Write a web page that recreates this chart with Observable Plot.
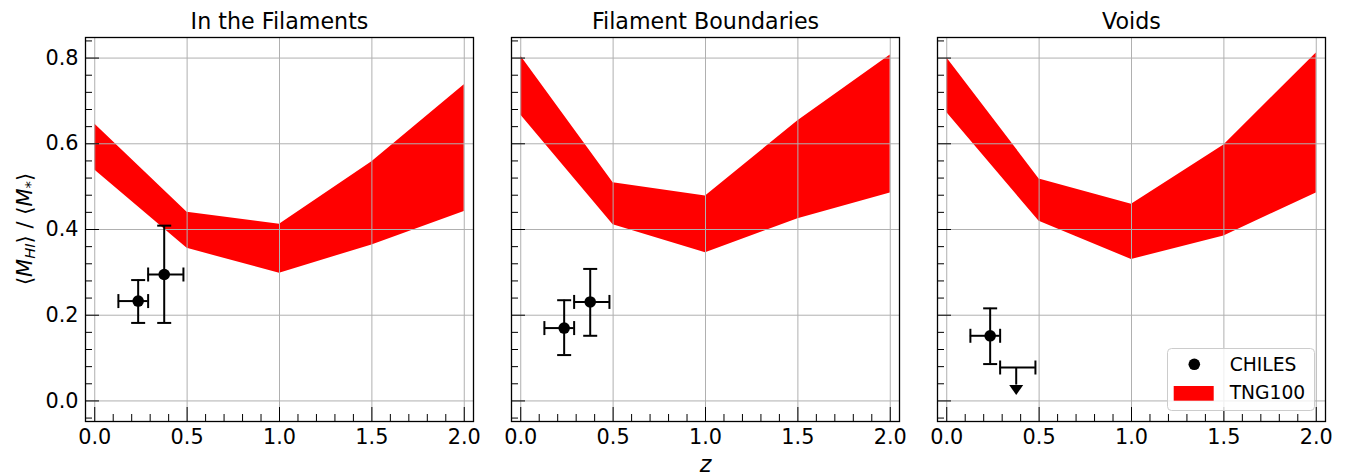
<!DOCTYPE html>
<html>
<head>
<meta charset="utf-8">
<script src="https://cdn.jsdelivr.net/npm/d3@7"></script>
<script src="https://cdn.jsdelivr.net/npm/@observablehq/plot@0.6"></script>
<style>
  html, body { margin: 0; padding: 0; background: #fff; }
  #wrap { position: relative; width: 1347px; height: 476px; background: #fff; font-family: "DejaVu Sans", sans-serif; color: #000; overflow: hidden; }
  #ylabel { position: absolute; left: 25px; top: 229px; transform: translate(-50%, -50%) rotate(-90deg); white-space: nowrap; font-size: 21px; line-height: 1; }
  #ylabel sub { font-size: 70%; vertical-align: -0.25em; line-height: 0; }
</style>
</head>
<body>
<div id="wrap"></div>
<script>
// ---- tick values ----
const xMajor = [0, 0.5, 1.0, 1.5, 2.0];
const xMinor = [0.1, 0.2, 0.3, 0.4, 0.6, 0.7, 0.8, 0.9, 1.1, 1.2, 1.3, 1.4, 1.6, 1.7, 1.8, 1.9];
const yMajor = [0.0, 0.2, 0.4, 0.6, 0.8];
const yMinor = [-0.04, 0.04, 0.08, 0.12, 0.16, 0.24, 0.28, 0.32, 0.36, 0.44, 0.48, 0.52, 0.56, 0.64, 0.68, 0.72, 0.76, 0.84];

// ---- panel titles ----
const panelTitles = ["In the Filaments", "Filament Boundaries", "Voids"];

// ---- TNG100 band (redshift grid, lower / upper edges) ----
const zGrid = [0.0, 0.5, 1.0, 1.5, 2.0];
const filLo = [0.539, 0.356, 0.298, 0.364, 0.442];
const filHi = [0.646, 0.440, 0.412, 0.558, 0.738];
const bndLo = [0.667, 0.411, 0.346, 0.425, 0.485];
const bndHi = [0.805, 0.509, 0.478, 0.654, 0.807];
const voidLo = [0.673, 0.419, 0.330, 0.385, 0.485];
const voidHi = [0.801, 0.518, 0.459, 0.597, 0.812];

// ---- CHILES measurements ----
const chilesZ = [0.235, 0.376];
const chilesZLo = [0.128, 0.289];
const chilesZHi = [0.289, 0.480];
const filV = [0.233, 0.295];
const filVLo = [0.182, 0.182];
const filVHi = [0.282, 0.409];
const bndV = [0.170, 0.231];
const bndVLo = [0.107, 0.152];
const bndVHi = [0.235, 0.308];
const voidV = [0.152];
const voidVLo = [0.086];
const voidVHi = [0.216];
// upper limit in voids (second z bin)
const voidLimV = [0.078];
const voidLimEnd = [0.037];

const bandLo = [filLo, bndLo, voidLo];
const bandHi = [filHi, bndHi, voidHi];
const ptsV = [filV, bndV, voidV];
const ptsVLo = [filVLo, bndVLo, voidVLo];
const ptsVHi = [filVHi, bndVHi, voidVHi];

// ---- custom symbols ----
const hCap = { draw(ctx, size) { const r = Math.sqrt(size / Math.PI); ctx.moveTo(-r, 0); ctx.lineTo(r, 0); } };
const vCap = { draw(ctx, size) { const r = Math.sqrt(size / Math.PI); ctx.moveTo(0, -r); ctx.lineTo(0, r); } };
const downTri = { draw(ctx, size) { const r = Math.sqrt(size / Math.PI); ctx.moveTo(-r, 0); ctx.lineTo(r, 0); ctx.lineTo(0, r * 1.43); ctx.closePath(); } };

const FW = 388, FH = 384, MT = 37, MB = 55, H = 476;
const FS = 20.8, TS = 22.2;
const wrap = document.getElementById("wrap");

const layout = [
  { left: 0, mL: 85, mR: 5 },
  { left: 481, mL: 30, mR: 5 },
  { left: 907, mL: 30, mR: 15 }
];

layout.forEach((L, i) => {
  const band = zGrid.map((z, k) => ({ z, lo: bandLo[i][k], hi: bandHi[i][k] }));
  const pts = ptsV[i].map((v, k) => ({
    z: chilesZ[k], zlo: chilesZLo[k], zhi: chilesZHi[k],
    v, vlo: ptsVLo[i][k], vhi: ptsVHi[i][k]
  }));
  const lims = i === 2 ? voidLimV.map((v, k) => ({
    z: chilesZ[1], zlo: chilesZLo[1], zhi: chilesZHi[1], v, vend: voidLimEnd[k]
  })) : [];

  const marks = [
    Plot.areaY(band, { x: "z", y1: "lo", y2: "hi", fill: "#ff0000", curve: "linear" }),
    Plot.gridX({ ticks: xMajor, stroke: "#b0b0b0", strokeOpacity: 1, strokeWidth: 1 }),
    Plot.gridY({ ticks: yMajor, stroke: "#b0b0b0", strokeOpacity: 1, strokeWidth: 1 }),
    Plot.tickY(yMajor, { y: d => d, insetRight: FW - 14, stroke: "black", strokeWidth: 1 }),
    Plot.tickY(yMinor, { y: d => d, insetRight: FW - 7, stroke: "black", strokeWidth: 1 }),
    Plot.tickX(xMajor, { x: d => d, insetTop: FH - 14, stroke: "black", strokeWidth: 1 }),
    Plot.tickX(xMinor, { x: d => d, insetTop: FH - 7, stroke: "black", strokeWidth: 1 }),
    Plot.axisX({ ticks: xMajor, tickSize: 0, tickPadding: 8, tickFormat: d3.format(".1f"), fontSize: FS, label: null }),
    Plot.frame({ stroke: "black", strokeWidth: 1.3 }),
    // error bars
    Plot.ruleX(pts, { x: "z", y1: "vlo", y2: "vhi", stroke: "black", strokeWidth: 2 }),
    Plot.ruleY(pts, { y: "v", x1: "zlo", x2: "zhi", stroke: "black", strokeWidth: 2 }),
    Plot.dot(pts, { x: "z", y: "vlo", symbol: hCap, r: 7, stroke: "black", strokeWidth: 2, fill: "none" }),
    Plot.dot(pts, { x: "z", y: "vhi", symbol: hCap, r: 7, stroke: "black", strokeWidth: 2, fill: "none" }),
    Plot.dot(pts, { x: "zlo", y: "v", symbol: vCap, r: 7, stroke: "black", strokeWidth: 2, fill: "none" }),
    Plot.dot(pts, { x: "zhi", y: "v", symbol: vCap, r: 7, stroke: "black", strokeWidth: 2, fill: "none" }),
    Plot.dot(pts, { x: "z", y: "v", r: 5.8, fill: "black", stroke: "none" }),
    // upper limits
    Plot.ruleX(lims, { x: "z", y1: "vend", y2: "v", stroke: "black", strokeWidth: 2 }),
    Plot.ruleY(lims, { y: "v", x1: "zlo", x2: "zhi", stroke: "black", strokeWidth: 2 }),
    Plot.dot(lims, { x: "zlo", y: "v", symbol: vCap, r: 7, stroke: "black", strokeWidth: 2, fill: "none" }),
    Plot.dot(lims, { x: "zhi", y: "v", symbol: vCap, r: 7, stroke: "black", strokeWidth: 2, fill: "none" }),
    Plot.dot(lims, { x: "z", y: "vend", symbol: downTri, r: 7, fill: "black", stroke: "none" }),
    // title
    Plot.text([panelTitles[i]], { frameAnchor: "top", dy: -9, lineAnchor: "bottom", fontSize: TS, fill: "black" })
  ];
  if (i === 0) {
    marks.push(Plot.axisY({ ticks: yMajor, tickSize: 0, tickPadding: 7, tickFormat: d3.format(".1f"), fontSize: FS, label: null }));
  }
  if (i === 1) {
    marks.push(Plot.text(["z"], { frameAnchor: "bottom", dy: 50, lineAnchor: "bottom", fontSize: TS, fontStyle: "italic", fill: "black" }));
  }

  const chart = Plot.plot({
    width: L.mL + FW + L.mR,
    height: H,
    marginLeft: L.mL,
    marginRight: L.mR,
    marginTop: MT,
    marginBottom: MB,
    x: { domain: [-0.05, 2.05] },
    y: { domain: [-0.048, 0.848], axis: i === 0 ? undefined : null },
    style: { fontFamily: "DejaVu Sans", fontSize: FS + "px", background: "transparent", overflow: "visible", color: "black" },
    marks
  });
  chart.style.position = "absolute";
  chart.style.left = L.left + "px";
  chart.style.top = "0px";
  wrap.appendChild(chart);
});

// y label
const yl = document.createElement("div");
yl.id = "ylabel";
yl.innerHTML = "⟨<i>M</i><sub><i>HI</i></sub>⟩ / ⟨<i>M</i><sub>*</sub>⟩";
wrap.appendChild(yl);

// legend
const legendItems = ["CHILES", "TNG100"];
const ns = "http://www.w3.org/2000/svg";
const lg = document.createElementNS(ns, "svg");
lg.setAttribute("width", 150);
lg.setAttribute("height", 66);
lg.style.position = "absolute";
lg.style.left = "1167px";
lg.style.top = "348px";
lg.style.fontFamily = "DejaVu Sans";
lg.innerHTML = `
  <rect x="0.5" y="0.5" width="147" height="62" rx="4" ry="4" fill="white" fill-opacity="0.8" stroke="#cccccc" stroke-width="1"/>
  <circle cx="27.3" cy="16.3" r="5.8" fill="black"/>
  <text x="62.7" y="22.7" font-size="18.7" fill="black">${legendItems[0]}</text>
  <rect x="6.7" y="38" width="40" height="14.7" fill="#ff0000"/>
  <text x="62.7" y="51.3" font-size="18.7" fill="black">${legendItems[1]}</text>`;
wrap.appendChild(lg);
</script>
</body>
</html>
